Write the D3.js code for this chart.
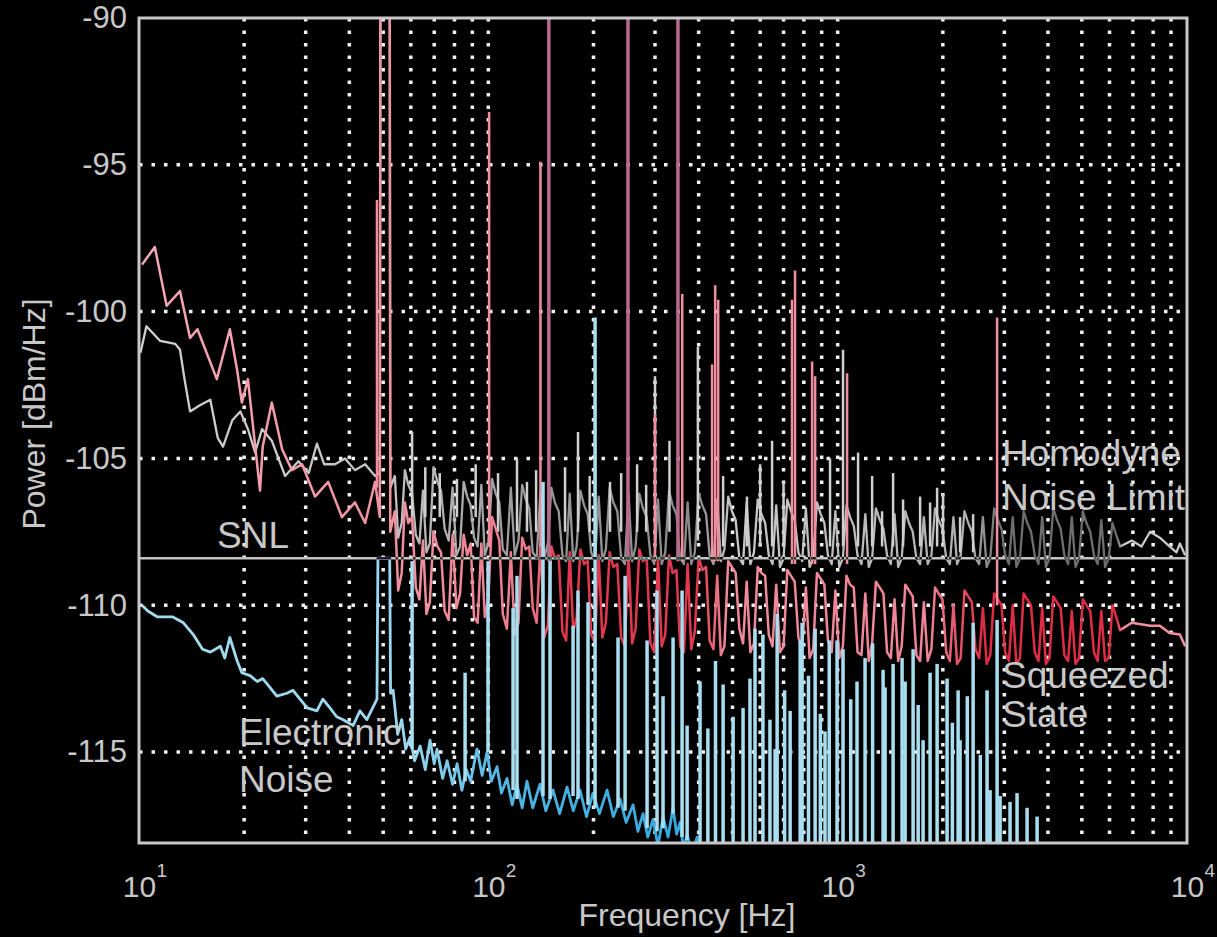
<!DOCTYPE html>
<html>
<head>
<meta charset="utf-8">
<script src="https://cdn.jsdelivr.net/npm/d3@7"></script>
<style>
  html, body { margin: 0; background: #000; }
  svg { display: block; }
  text { font-family: "Liberation Sans", Arial, sans-serif; fill: #c8c8c8; }
</style>
</head>
<body>
<svg id="chart" width="1217" height="937"></svg>
<script>
// ---- data: [frequency Hz, power dBm/Hz] ----
const xTicks = [10, 100, 1000, 10000];
const yTicks = [-115, -110, -105, -100, -95, -90];
const snlLevel = -108.4;

// squeezed state below the 50 Hz line
const squeezedLow = [[10.2,-98.4],[11.1,-97.8],[12.0,-99.8],[13.1,-99.3],[14.0,-100.9],[14.7,-100.6],[16.7,-102.3],
  [18.2,-100.6],[19.1,-102.0],[19.7,-103.1],[20.5,-102.3],[22.2,-106.1],[22.6,-104.6],[24.0,-103.1],[25.7,-104.7],
  [27.4,-105.4],[29.3,-105.2],[31.9,-106.3],[34.8,-105.8],[38.1,-107.0],[41.5,-106.5],[44.4,-107.2],[47.4,-105.8],
  [48.9,-107.0],[49.1,-88],[52.2,-88],[52.4,-107.5]];

// homodyne noise limit below the 50 Hz line
const homodyneLow = [[10.1,-101.4],[10.5,-100.5],[11.5,-101.0],[12.7,-101.1],[13.1,-101.3],[13.5,-102.3],[14.0,-103.4],
  [14.9,-103.2],[16.0,-103.0],[16.8,-104.3],[17.4,-104.6],[18.5,-103.7],[19.5,-103.4],[20.5,-104.0],[21.5,-104.8],
  [22.5,-104.0],[24.0,-104.4],[26.2,-105.6],[28.6,-105.1],[30.6,-105.5],[32.3,-104.5],[33.9,-105.2],[36.4,-105.2],
  [38.9,-105.0],[41.5,-105.4],[44.4,-105.2],[47.4,-105.6],[48.9,-105.5],[49.1,-88],[52.2,-88],[52.4,-106.0]];

// noisy band 54 Hz .. 6.3 kHz
const denseHz = [54,56.5,59,62,65,68,71.5,75,79,83,87,91,95.5,100,105,110,116,122,128,134,141,148,155,163,171,179,
  188,197,207,217,228,240,252,264,277,291,306,321,337,354,372,390,410,430,452,474,498,523,549,576,605,635,667,700,
  735,772,811,851,894,938,985,1035,1085,1140,1200,1255,1320,1385,1455,1525,1600,1680,1765,1855,1945,2045,2145,2250,
  2365,2480,2605,2735,2875,3015,3170,3325,3490,3665,3850,4040,4245,4455,4680,4910,5155,5415,5685,5970,6270];
const squeezedDense = [-106.8,-108.9,-107.2,-109.4,-107.8,-109.9,-108.0,-110.2,-107.6,-109.6,-108.3,-110.4,-107.9,
  -109.8,-107.4,-110.3,-108.2,-110.6,-108.1,-110.1,-107.9,-110.7,-108.4,-110.9,-108.2,-110.4,-108.6,-111.0,-108.3,
  -110.6,-108.7,-111.1,-108.2,-110.8,-108.5,-111.3,-108.4,-111.0,-108.9,-111.4,-108.6,-110.9,-108.8,-111.2,-109.0,
  -111.4,-108.7,-110.8,-109.2,-111.3,-108.9,-111.0,-109.3,-111.4,-109.0,-111.1,-109.4,-111.5,-109.1,-111.2,-109.5,
  -111.4,-109.3,-111.6,-109.6,-111.3,-109.4,-111.6,-109.8,-111.4,-109.5,-111.7,-109.9,-111.5,-109.6,-111.6,-110.0,
  -111.8,-109.7,-111.5,-110.1,-111.7,-109.8,-111.6,-110.0,-111.8,-109.8,-111.6,-110.1,-111.8,-109.9,-111.7,-110.2,
  -111.8,-110.0,-111.6,-110.2,-111.8,-110.4];
const homodyneDense = [-105.6,-107.2,-105.9,-107.6,-106.1,-107.9,-105.8,-107.4,-106.0,-108.0,-106.3,-107.7,-105.9,
  -107.9,-106.2,-108.1,-106.0,-107.8,-106.4,-108.2,-106.1,-107.9,-106.5,-108.3,-106.2,-108.0,-106.6,-108.2,-106.3,
  -108.1,-106.5,-108.4,-106.2,-108.0,-106.7,-108.3,-106.4,-108.2,-106.6,-108.4,-106.5,-108.2,-106.6,-108.3,-106.4,
  -108.1,-106.8,-108.4,-106.5,-108.2,-106.9,-108.3,-106.6,-108.4,-106.8,-108.2,-106.7,-108.4,-106.9,-108.3,-106.8,
  -108.4,-107.0,-108.3,-106.9,-108.4,-107.1,-108.3,-106.9,-108.4,-107.2,-108.4,-107.0,-108.3,-107.1,-108.4,-107.0,
  -108.3,-107.2,-108.4,-107.0,-108.4,-107.1,-108.3,-107.0,-108.4,-107.2,-108.3,-107.0,-108.4,-107.1,-108.3,-107.0,
  -108.4,-107.2,-108.3,-107.1,-108.4,-107.6];

// in-between samples of the same band
const midHz = [55.2,57.7,60.5,63.5,66.5,69.7,73.2,77,81,85,89,93.2,97.7,102.5,107.5,113,119,125,131,137.5,144.5,151.5,
  159,167,175,183.5,192.5,202,212,222.5,234,246,258,270.5,284,298.5,313.5,329,345.5,363,381,400,420,441,463,486,510.5,
  536,562.5,590.5,620,651,683.5,717.5,753.5,791.5,831,872.5,916,961.5,1010,1060,1112,1170,1227,1287,1352,1420,1490,
  1562,1640,1722,1810,1900,1995,2095,2197,2307,2422,2542,2670,2805,2945,3092,3247,3407,3577,3757,3945,4142,4350,4567,
  4795,5032,5285,5550,5827,6118];
const squeezedMid = [-109.5,-106.5,-107.0,-109.8,-110.3,-107.5,-108.2,-110.5,-110.1,-107.6,-107.9,-110.6,-110.4,-107.0,
  -107.8,-110.8,-111.0,-107.7,-108.0,-110.6,-111.1,-108.0,-108.3,-111.2,-110.9,-108.1,-108.5,-111.3,-111.1,-108.2,
  -108.6,-111.4,-111.3,-108.1,-108.4,-111.6,-111.4,-108.3,-108.8,-111.6,-111.5,-108.4,-108.7,-111.5,-111.7,-108.5,
  -108.9,-111.3,-111.6,-108.7,-109.0,-111.4,-111.6,-108.8,-109.2,-111.5,-111.8,-108.9,-109.3,-111.6,-111.8,-109.0,
  -109.4,-111.7,-111.9,-109.2,-109.6,-111.8,-111.9,-109.3,-109.7,-111.9,-111.9,-109.4,-109.8,-111.9,-112.0,-109.5,
  -109.9,-111.8,-112.0,-109.6,-110.0,-111.9,-112.0,-109.6,-110.0,-111.9,-112.0,-109.7,-110.1,-111.9,-112.0,-109.8,
  -110.2,-111.9,-111.9,-110.0];
const homodyneMid = [-107.7,-105.4,-106.2,-107.9,-108.2,-105.3,-106.1,-107.8,-108.3,-105.8,-106.6,-108.0,-108.3,-105.7,
  -106.5,-108.3,-108.3,-105.9,-106.7,-108.4,-108.4,-106.0,-106.8,-108.5,-108.5,-106.1,-106.9,-108.5,-108.5,-106.0,
  -106.8,-108.6,-108.5,-106.2,-107.0,-108.6,-108.6,-106.1,-106.9,-108.6,-108.6,-106.2,-106.9,-108.6,-108.5,-106.3,
  -107.1,-108.6,-108.6,-106.4,-107.2,-108.6,-108.7,-106.4,-107.1,-108.5,-108.7,-106.5,-107.2,-108.6,-108.7,-106.6,
  -107.3,-108.6,-108.7,-106.7,-107.4,-108.6,-108.7,-106.8,-107.5,-108.6,-108.6,-106.7,-107.4,-108.6,-108.6,-106.8,
  -107.5,-108.6,-108.7,-106.7,-107.4,-108.6,-108.7,-106.8,-107.5,-108.6,-108.7,-106.7,-107.4,-108.6,-108.7,-106.8,
  -107.5,-108.6,-108.7,-107.2];

const squeezedHigh = [[6430,-110.85],[6950,-110.6],[7840,-110.7],[8360,-110.7],[8910,-110.95],[9540,-111.0],[9880,-111.4]];
const homodyneHigh = [[6430,-108.0],[6950,-107.8],[7410,-108.0],[7840,-107.5],[8360,-107.7],[8910,-108.0],[9330,-108.2],
  [9540,-107.9],[9880,-108.3]];

// electronic noise floor
const electronic = [[10.2,-110.0],[10.6,-110.2],[11.3,-110.4],[12.5,-110.4],[13.4,-110.6],[14.3,-111.0],[15.2,-111.5],
  [16.0,-111.6],[17.1,-111.4],[17.6,-111.8],[18.2,-111.1],[19.1,-111.9],[19.7,-112.3],[20.8,-112.4],[21.8,-112.6],
  [22.6,-112.5],[23.7,-112.8],[24.8,-113.1],[26.5,-113.0],[27.6,-112.9],[28.9,-113.2],[30.3,-113.5],[32.3,-113.6],
  [33.6,-113.2],[35.2,-113.5],[36.8,-113.8],[38.4,-113.9],[41.0,-114.1],[42.9,-113.6],[44.9,-113.9],[48.0,-113.2],
  [48.3,-108.4],[52.2,-108.4],[52.5,-113.0],
  [53.4,-112.9],[55.0,-114.4],[56.5,-113.9],[58.0,-114.9],[59.7,-114.5],[61.5,-115.3],[63.8,-114.8],[66,-115.6],
  [68.1,-114.6],[70,-115.4],[71.3,-114.9],[74,-115.9],[76.2,-115.3],[79,-116.1],[81.4,-115.4],[84,-116.3],[86.5,-115.6],
  [89,-116.0],[92.8,-114.9],[96,-115.8],[99.2,-115.0],[102,-116.0],[105.9,-115.5],[109,-116.4],[113.1,-115.9],
  [117,-116.8],[120.8,-116.1],[125,-116.9],[129,-116.0],[134,-116.9],[140.6,-116.1],[146,-117.0],[153.2,-116.3],
  [160,-117.1],[168,-116.2],[175,-117.0],[183,-116.3],[191,-117.2],[199.4,-116.4],[208,-117.1],[218.7,-116.3],
  [228,-117.2],[238.2,-116.6],[248,-117.4],[259.6,-116.8],[268,-117.7],[277.3,-117.1],[286,-117.9],[296.1,-117.3],
  [306,-118.2],[316.3,-117.2],[327,-117.9],[337.9,-116.9],[346,-117.8],[353.9,-117.4],[362,-118.3],[370.7,-117.8],
  [383,-118.5],[395.8,-117.9],[405,-119.5],[10000,-119.5]];

// narrow lines: [Hz, from dB, to dB]
const squeezedSpikes = [[48.0,-106.0,-96.2],[100.5,-108.0,-93.2],[141,-108.0,-94.9],[202,-108.5,-102.2],
  [300,-108.5,-103.5],[359,-108.5,-99.4],[437,-108.5,-101.8],[446,-108.5,-99.1],[455,-108.5,-99.6],
  [740,-108.6,-99.6],[755,-108.6,-98.6],[845,-108.6,-101.7],[862,-108.6,-102.2],[1064,-108.6,-102.1],
  [2860,-110.0,-100.2]];
const mainsSpikes = [[149,-108.5,-88],[251,-108.5,-88],[349,-108.5,-88]];
const homodyneSpikes = [[60.5,-107,-104.1],[66,-107,-105.3],[72.6,-107,-105.5],[81.3,-107,-105.7],[92,-107,-105.2],
  [106.6,-107.5,-105.5],[120.8,-107.5,-105.0],[129,-107.5,-105.8],[137,-107.5,-105.4],[165.8,-107.5,-105.3],
  [180.6,-107.5,-104.1],[195,-107.5,-105.6],[223,-107.5,-105.8],[240,-107.5,-105.5],[266.6,-107.5,-105.2],
  [283,-107.5,-105.9],[300,-107.8,-102.2],[330,-107.5,-104.4],[398,-107.8,-101.2],[470,-108,-105.6],
  [550,-108,-106.3],[600,-108,-105.2],[649,-108,-104.4],[700,-108,-105.8],[951,-108,-105.0],[1036,-108,-101.3],
  [1144,-108,-104.8],[1255,-108,-105.6],[1340,-108,-106.8],[1441,-108,-105.5],[1539,-108,-106.4],[1722,-108,-106.3],
  [1839,-108,-106.5],[1926,-108,-106.0],[2003,-108,-106.2],[2241,-108.2,-107.0],[2442,-108.2,-106.9]];
const electronicSpikes = [[60.5,-114.9,-108.5],[85.8,-116.0,-112.3],[99.8,-115.0,-108.5],[117.7,-116.3,-110.1],
  [120.8,-116.6,-109.0],[143.4,-116.5,-105.8],[150.2,-116.6,-108.5],[174.8,-116.5,-110.7],[180.6,-116.6,-109.5],
  [192.9,-116.8,-109.9],[202.1,-116.9,-100.2],[235.1,-116.9,-111.1],[246.3,-117.0,-109.0],[284.7,-117.6,-111.2],
  [304,-117.7,-109.5],[316.3,-117.6,-113.1],[337.9,-117.1,-111.1],[358.6,-117.9,-109.5],[370.7,-118.0,-114.1],
  [403.7,-119,-112.6],[425,-119,-114.2],[447,-119,-111.9],[470,-119,-112.7],[502,-119,-113.8],[536,-119,-113.5],
  [561,-119,-112.5],[580,-119,-110.8],[611,-119,-111.0],[640,-119,-113.9],[662,-119,-114.9],[671,-119,-110.3],
  [705,-119,-112.9],[731,-119,-113.6],[781,-119,-111.2],[791,-119,-110.6],[825,-119,-112.4],[862,-119,-110.8],
  [892,-119,-113.7],[920,-119,-114.3],[946,-119,-111.2],[996,-119,-111.2],[1036,-119,-111.5],[1090,-119,-113.2],
  [1136,-119,-112.6],[1198,-119,-111.8],[1259,-119,-111.3],[1349,-119,-112.2],[1367,-119,-112.8],[1441,-119,-112.0],
  [1529,-119,-111.8],[1560,-119,-112.6],[1644,-119,-111.5],[1700,-119,-113.4],[1756,-119,-114.6],[1839,-119,-112.3],
  [1926,-119,-112.0],[2057,-119,-112.5],[2130,-119,-114.0],[2212,-119,-112.9],[2241,-119,-114.6],[2350,-119,-113.1],
  [2442,-119,-110.6],[2560,-119,-115.1],[2677,-119,-112.9],[2731,-119,-116.3],[2860,-119,-110.5],[2917,-119,-116.5],
  [3115,-119,-116.7],[3262,-119,-116.4],[3485,-119,-116.9],[3723,-119,-117.2]];

// ---- layout ----
const L = 139, R = 1187, T = 18, B = 843;
const svg = d3.select("#chart");
const x = d3.scaleLog().domain([10, 10000]).range([L, R]);
const y = d3.scaleLinear().domain([-118.1, -90]).range([B, T]);

const defs = svg.append("defs");
defs.append("clipPath").attr("id", "plotClip")
  .append("rect").attr("x", L).attr("y", T).attr("width", R - L).attr("height", B - T);

function gradient(id, stops) {
  const g = defs.append("linearGradient").attr("id", id)
    .attr("gradientUnits", "userSpaceOnUse")
    .attr("x1", L).attr("x2", R).attr("y1", 0).attr("y2", 0);
  stops.forEach(s => g.append("stop")
    .attr("offset", (x(s[0]) - L) / (R - L)).attr("stop-color", s[1]));
}
gradient("pinkGrad", [[10,"#f4a8b8"],[60,"#f0909f"],[130,"#ee7a8c"],[160,"#e2384f"],[400,"#e2384f"],[480,"#f08a9a"],
  [1800,"#ef8496"],[2600,"#df2c45"],[6300,"#df2c45"],[6600,"#f090a0"],[10000,"#f090a0"]]);
gradient("grayGrad", [[10,"#d0d0d0"],[50,"#c4c4c4"],[120,"#9a9a9a"],[400,"#8a8a8a"],[500,"#c8c8c8"],[2400,"#b0b0b0"],
  [2900,"#6e6e6e"],[6300,"#6e6e6e"],[6600,"#c8c8c8"],[10000,"#c8c8c8"]]);
gradient("cyanGrad", [[10,"#a4dcef"],[60,"#9ad6ee"],[110,"#4fb6e4"],[420,"#2fa6dc"],[450,"#b4e4f4"],[10000,"#b4e4f4"]]);

// grid
const grid = svg.append("g").attr("stroke", "#f2f2f2").attr("stroke-width", 3.5).attr("stroke-dasharray", "3.5 9");
const minorX = [];
[10, 100, 1000].forEach(d => { for (let k = 2; k <= 10; k++) if (d * k < 10000) minorX.push(d * k); });
grid.selectAll(".vx").data(minorX).enter().append("line")
  .attr("x1", d => x(d)).attr("x2", d => x(d)).attr("y1", T).attr("y2", B);
grid.selectAll(".hy").data(yTicks.filter(v => v > -118 && v < -90)).enter().append("line")
  .attr("x1", L).attr("x2", R).attr("y1", d => y(d)).attr("y2", d => y(d));

const line = d3.line().x(d => x(d[0])).y(d => y(d[1]));
const plot = svg.append("g").attr("clip-path", "url(#plotClip)");

function spikes(data, color, width) {
  plot.append("g").selectAll("line").data(data).enter().append("line")
    .attr("x1", d => x(d[0])).attr("x2", d => x(d[0]))
    .attr("y1", d => y(d[1])).attr("y2", d => y(d[2]))
    .attr("stroke", color).attr("stroke-width", width);
}

function band(hz, vals, midVals) {
  const pts = hz.map((f, i) => [f, vals[i]]).concat(midHz.map((f, i) => [f, midVals[i]]));
  return pts.filter(d => d[1] !== undefined).sort((a, b) => a[0] - b[0]);
}

const homodyne = homodyneLow.concat(band(denseHz, homodyneDense, homodyneMid), homodyneHigh);
const squeezed = squeezedLow.concat(band(denseHz, squeezedDense, squeezedMid), squeezedHigh);

plot.append("path").datum(homodyne).attr("d", line)
  .attr("fill", "none").attr("stroke", "url(#grayGrad)").attr("stroke-width", 2.3)
  .attr("stroke-linejoin", "round");
spikes(homodyneSpikes, "#cfcfcf", 2.5);

plot.append("path").datum(squeezed).attr("d", line)
  .attr("fill", "none").attr("stroke", "url(#pinkGrad)").attr("stroke-width", 2.5)
  .attr("stroke-linejoin", "round");
spikes(squeezedSpikes, "#f08ea0", 2.5);
spikes(mainsSpikes, "#b86a8c", 3.5);

plot.append("path").datum(electronic).attr("d", line)
  .attr("fill", "none").attr("stroke", "url(#cyanGrad)").attr("stroke-width", 2.8)
  .attr("stroke-linejoin", "round");
spikes(electronicSpikes, "#a8deef", 3.5);

// shot noise level
plot.append("line")
  .attr("x1", L).attr("x2", R).attr("y1", y(snlLevel)).attr("y2", y(snlLevel))
  .attr("stroke", "#c4c4c4").attr("stroke-width", 2.5).style("mix-blend-mode", "difference");

// annotations
const notes = [
  { t: "SNL", x: 217, y: 548 },
  { t: "Electronic", x: 239, y: 745 },
  { t: "Noise", x: 239, y: 792 },
  { t: "Homodyne", x: 1002, y: 466 },
  { t: "Noise Limit", x: 1002, y: 510 },
  { t: "Squeezed", x: 1002, y: 688 },
  { t: "State", x: 1002, y: 727 }
];
svg.append("g").selectAll("text").data(notes).enter().append("text")
  .attr("x", d => d.x).attr("y", d => d.y).attr("font-size", 37).text(d => d.t);

// axes
const gx = svg.append("g").attr("transform", `translate(0,${B})`)
  .call(d3.axisBottom(x).tickValues(xTicks).tickSize(0).tickFormat(() => "10"));
gx.select(".domain").remove();
gx.attr("font-family", null);
gx.selectAll(".tick text").attr("y", 54).attr("dy", null).attr("font-size", 30).attr("fill", "#c8c8c8");
gx.selectAll(".tick").append("text")
  .attr("x", 17).attr("y", 34).attr("font-size", 19).attr("text-anchor", "start").attr("fill", "#c8c8c8")
  .text(d => Math.round(Math.log10(d)));

const gy = svg.append("g").attr("transform", `translate(${L},0)`)
  .call(d3.axisLeft(y).tickValues(yTicks).tickSize(0).tickPadding(12).tickFormat(d => String(d)));
gy.select(".domain").remove();
gy.attr("font-family", null);
gy.selectAll(".tick text").attr("font-size", 31).attr("fill", "#c8c8c8");

svg.append("text").attr("x", 687).attr("y", 926).attr("text-anchor", "middle")
  .attr("font-size", 32).text("Frequency [Hz]");
svg.append("text").attr("transform", "translate(45,414) rotate(-90)").attr("text-anchor", "middle")
  .attr("font-size", 32).text("Power [dBm/Hz]");

// frame
svg.append("rect").attr("x", L).attr("y", T).attr("width", R - L).attr("height", B - T)
  .attr("fill", "none").attr("stroke", "#c8c8c8").attr("stroke-width", 3);
</script>
</body>
</html>
